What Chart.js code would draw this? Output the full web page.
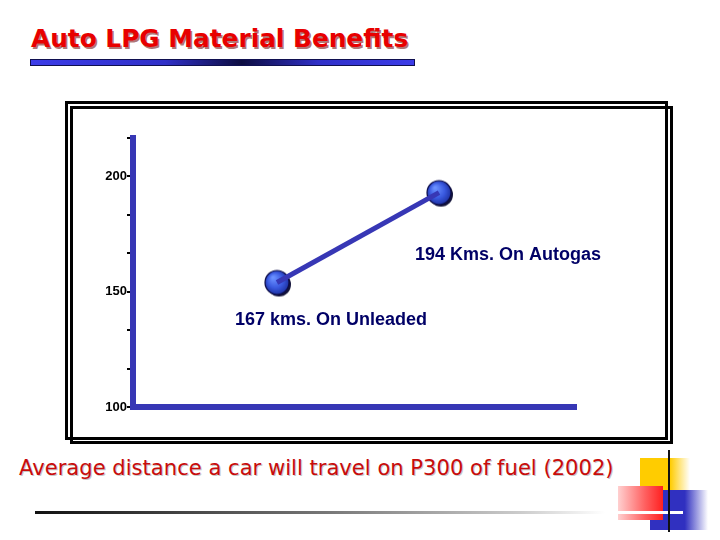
<!DOCTYPE html>
<html>
<head>
<meta charset="utf-8">
<script src="https://cdn.jsdelivr.net/npm/chart.js@4"></script>
<style>
  body { margin:0; width:720px; height:540px; background:#fff; position:relative; overflow:hidden; font-family:"DejaVu Sans", sans-serif; }
  .abs { position:absolute; }
  #title { left:31px; top:24px; font-weight:bold; font-size:24.8px; color:#e80000; text-shadow:1.5px 1.5px 0 rgba(110,0,0,0.55); white-space:nowrap; }
  #titleBar { left:30px; top:59px; width:383px; height:5px; border:1px solid #101050;
    background:linear-gradient(to right,#3c3ce8 0%,#3030c8 35%,#0c0c40 55%,#3030c8 75%,#3c3ce8 100%); }
  .frame { border:3px solid #000; }
  #caption { left:19px; top:455px; font-size:21.1px; color:#c80c0c; text-shadow:1px 1px 0 #c8c8c8; white-space:nowrap; }
  #capLine { left:35px; top:511px; width:648px; height:3px; background:linear-gradient(to right,#111 0%,#777 45%,#ccc 75%,#fff 88%,#fff 100%); }
</style>
</head>
<body>
<div id="title" class="abs">Auto LPG Material Benefits</div>
<div id="titleBar" class="abs"></div>

<canvas id="myChart" class="abs" style="left:70px;top:110px;" width="590" height="325"></canvas>

<div class="abs frame" style="left:65px;top:101px;width:597px;height:333px;"></div>
<div class="abs frame" style="left:69.5px;top:106px;width:597px;height:332px;"></div>

<div id="caption" class="abs">Average distance a car will travel on P300 of fuel (2002)</div>

<!-- corner decoration -->
<div class="abs" style="left:640px;top:458px;width:50px;height:34px;background:linear-gradient(to right,#ffcc00 0%,#ffcc00 60%,rgba(255,204,0,0) 100%);"></div>
<div class="abs" style="left:650px;top:490px;width:58px;height:40px;background:linear-gradient(to right,#3030c0 0%,#3030c0 60%,rgba(48,48,192,0) 100%);"></div>
<div class="abs" style="left:618px;top:486px;width:45px;height:34px;background:linear-gradient(to right,#ffd0d0 0%,#ff6060 60%,#ff2020 100%);"></div>
<div id="capLine" class="abs"></div>
<div class="abs" style="left:668px;top:450px;width:2px;height:82px;background:#111;"></div>

<script>
const categories = ['Unleaded', 'Autogas'];
const categoryPos = [1, 2];
const distanceKms = [154, 193];
const pointNotes = ['167 kms. On Unleaded', '194 Kms. On Autogas'];
const yMin = 100;
const yStep = 50 / 3;
const yMax = yMin + 7 * yStep;
const yLabels = [100, 150, 200];

const blue = '#3737b5';
const points = categoryPos.map((x, i) => ({ x: x, y: distanceKms[i] }));

// sphere marker
const ball = document.createElement('canvas');
ball.width = 32; ball.height = 32;
const b = ball.getContext('2d');
b.fillStyle = '#14143a';
b.beginPath(); b.arc(18, 18, 12, 0, Math.PI * 2); b.fill();
const g = b.createRadialGradient(12, 11, 1, 16, 16, 13);
g.addColorStop(0, '#6a90ff');
g.addColorStop(0.55, '#3a5ae0');
g.addColorStop(1, '#1a2c9c');
b.fillStyle = g;
b.beginPath(); b.arc(16, 16, 12, 0, Math.PI * 2); b.fill();
b.lineWidth = 1.2; b.strokeStyle = '#0c0c48'; b.stroke();

const noteOffsets = [[-42, 38], [-24, 62]];
const notesPlugin = {
  id: 'notes',
  afterDatasetsDraw(chart) {
    const meta = chart.getDatasetMeta(0);
    const c = chart.ctx;
    c.save();
    c.font = 'bold 18px "Liberation Sans", Arial, sans-serif';
    c.fillStyle = '#000066';
    c.textBaseline = 'middle';
    c.textAlign = 'left';
    meta.data.forEach((p, i) => {
      c.fillText(pointNotes[i], p.x + noteOffsets[i][0], p.y + noteOffsets[i][1]);
    });
    c.restore();
  }
};

const ctx = document.getElementById('myChart');
new Chart(ctx, {
  type: 'scatter',
  data: {
    labels: categories,
    datasets: [{
      data: points,
      order: 2,
      showLine: false,
      pointStyle: ball,
      pointRadius: 13
    }, {
      data: points,
      order: 1,
      showLine: true,
      borderColor: blue,
      borderWidth: 5,
      pointRadius: 0
    }]
  },
  options: {
    responsive: false,
    animation: false,
    layout: { padding: { left: 0, top: 28, right: 84, bottom: 28 } },
    plugins: { legend: { display: false }, tooltip: { enabled: false } },
    scales: {
      x: {
        type: 'linear',
        min: 0.111,
        max: 2.846,
        ticks: { display: false },
        grid: { display: false },
        border: { color: blue, width: 6 },
        afterFit(s) { s.height = 0; s.paddingLeft = 0; s.paddingRight = 0; }
      },
      y: {
        min: yMin,
        max: yMax,
        ticks: {
          stepSize: yStep,
          color: '#000',
          padding: 0,
          font: { family: '"Liberation Sans", Arial, sans-serif', size: 13, weight: 'bold' },
          callback(v) {
            const hit = yLabels.find(l => Math.abs(l - v) < 0.01);
            return hit !== undefined ? String(hit) : '';
          }
        },
        grid: { drawOnChartArea: false, drawTicks: true, tickLength: 6, color: '#000', lineWidth: 2 },
        border: { color: blue, width: 6 },
        afterFit(s) { s.width = 63; s.paddingTop = 0; s.paddingBottom = 0; }
      }
    }
  },
  plugins: [notesPlugin]
});
</script>
</body>
</html>
